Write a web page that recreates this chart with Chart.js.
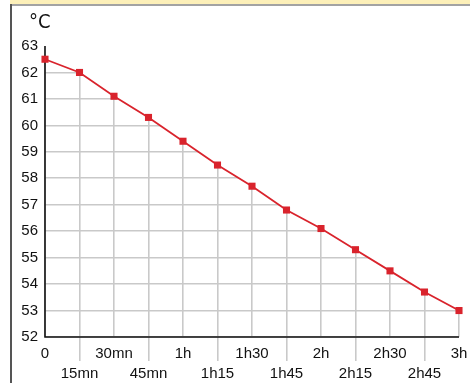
<!DOCTYPE html>
<html lang="fr">
<head>
  <meta charset="UTF-8">
  <script src="https://cdn.jsdelivr.net/npm/chart.js"></script>
  <title>Température</title>
  <style>
    body { margin: 0; background: #fff; }
    .wrap { position: relative; width: 470px; height: 383px; overflow: hidden; }
    .band { position: absolute; left: 10px; top: 0; width: 460px; height: 4px; background: #fdf0b9; border-bottom: 2px solid #a3a3a3; }
    .side { position: absolute; left: 10px; top: 4px; width: 2px; height: 379px; background: #555; }
    .unit { position: absolute; left: 29px; top: 9px; font: 20px 'Liberation Sans Narrow', 'DejaVu Sans Condensed', sans-serif; color: #111; }
    canvas { position: absolute; left: 0; top: 0; }
  </style>
</head>
<body>
  <div class="wrap">
    <canvas id="chart" width="470" height="383"></canvas>
    <div class="band"></div>
    <div class="side"></div>
    <div class="unit">°C</div>
  </div>
  <script>
    // temps de refroidissement, relevé tous les quarts d'heure
    const times = ['0', '15mn', '30mn', '45mn', '1h', '1h15', '1h30', '1h45', '2h', '2h15', '2h30', '2h45', '3h'];
    const temps = [62.5, 62.0, 61.1, 60.3, 59.4, 58.5, 57.7, 56.8, 56.1, 55.3, 54.5, 53.7, 53.0];
    const yMin = 52;
    const yMax = 63;

    // labels on two rows: even ticks on top, odd ticks below
    const labels = times.map((t, i) => i % 2 ? ['', t] : [t, '']);

    // grid only shows under the curve: paint white above the line,
    // then redraw the two axes on top
    const underCurve = {
      id: 'underCurve',
      beforeDatasetsDraw(chart) {
        const { ctx, chartArea } = chart;
        const pts = chart.getDatasetMeta(0).data;
        ctx.save();
        ctx.fillStyle = '#fff';
        ctx.beginPath();
        ctx.moveTo(chartArea.left - 1, chartArea.top - 2);
        pts.forEach(p => ctx.lineTo(p.x, p.y));
        ctx.lineTo(chartArea.right + 2, pts[pts.length - 1].y);
        ctx.lineTo(chartArea.right + 2, chartArea.top - 2);
        ctx.closePath();
        ctx.fill();

        ctx.strokeStyle = '#111';
        ctx.lineWidth = 1.6;
        ctx.beginPath();
        ctx.moveTo(chartArea.left, chartArea.top);
        ctx.lineTo(chartArea.left, chartArea.bottom);
        ctx.lineTo(chartArea.right, chartArea.bottom);
        ctx.stroke();
        ctx.restore();
      }
    };

    new Chart(document.getElementById('chart'), {
      type: 'line',
      data: {
        labels: labels,
        datasets: [{
          data: temps,
          borderColor: '#d9232c',
          borderWidth: 1.8,
          fill: false,
          pointStyle: 'rect',
          pointRadius: 5,
          pointBackgroundColor: '#d9232c',
          pointBorderWidth: 0,
          tension: 0,
          clip: false
        }]
      },
      options: {
        responsive: false,
        animation: false,
        layout: { padding: { left: 12, right: 11, top: 46, bottom: 0 } },
        plugins: {
          legend: { display: false },
          tooltip: { enabled: false }
        },
        scales: {
          x: {
            offset: false,
            border: { display: false },
            grid: {
              color: '#c9c9c9',
              lineWidth: 1.6,
              tickLength: 24,
              tickColor: c => c.index % 2 ? '#c9c9c9' : 'rgba(0,0,0,0)'
            },
            ticks: {
              autoSkip: false,
              maxRotation: 0,
              padding: -17,
              color: '#111',
              font: { family: 'Liberation Sans', size: 15, lineHeight: 1.33 }
            },
            afterFit: s => { s.height = 46; }
          },
          y: {
            min: yMin,
            max: yMax,
            border: { display: false },
            grid: { color: '#c9c9c9', lineWidth: 1.6, drawTicks: false },
            ticks: {
              stepSize: 1,
              padding: 7,
              color: '#111',
              font: { family: 'Liberation Sans', size: 15 }
            },
            afterFit: s => { s.width = 33; }
          }
        }
      },
      plugins: [underCurve]
    });
  </script>
</body>
</html>
